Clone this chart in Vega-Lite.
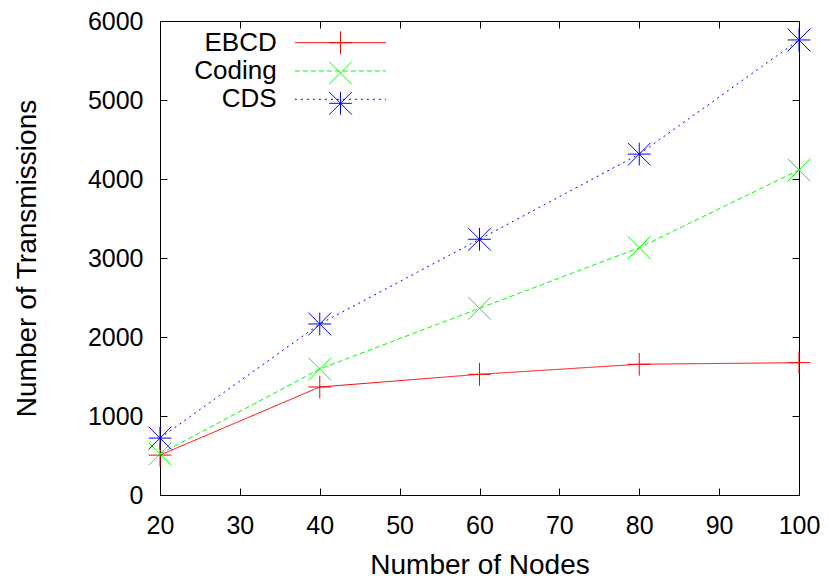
{
  "$schema": "https://vega.github.io/schema/vega-lite/v6.json",
  "width": 639,
  "height": 474,
  "autosize": "none",
  "padding": {"left": 160, "top": 21, "right": 29, "bottom": 84},
  "background": "white",
  "config": {
    "view": {"stroke": "black", "strokeWidth": 1},
    "font": "Liberation Sans",
    "axis": {
      "grid": false,
      "domain": false,
      "tickColor": "black",
      "tickWidth": 1,
      "labelColor": "black",
      "titleColor": "black",
      "titleFontWeight": "normal",
      "labelFont": "Liberation Sans",
      "titleFont": "Liberation Sans"
    },
    "legend": {
      "orient": "none",
      "legendX": 167.5,
      "legendY": 8.7,
      "title": null,
      "padding": 0,
      "rowPadding": 2.3,
      "labelFontSize": 26,
      "labelFont": "Liberation Sans",
      "labelColor": "black",
      "labelAlign": "right",
      "labelBaseline": "middle",
      "symbolSize": 520,
      "symbolStrokeWidth": 1,
      "symbolFillColor": "transparent",
      "symbolOpacity": 1
    }
  },
  "data": {
    "values": [
      {"series": "EBCD", "nodes": 20, "tx": 505},
      {"series": "EBCD", "nodes": 40, "tx": 1367},
      {"series": "EBCD", "nodes": 60, "tx": 1528},
      {"series": "EBCD", "nodes": 80, "tx": 1655},
      {"series": "EBCD", "nodes": 100, "tx": 1675},
      {"series": "Coding", "nodes": 20, "tx": 520},
      {"series": "Coding", "nodes": 40, "tx": 1595},
      {"series": "Coding", "nodes": 60, "tx": 2363},
      {"series": "Coding", "nodes": 80, "tx": 3130},
      {"series": "Coding", "nodes": 100, "tx": 4115},
      {"series": "CDS", "nodes": 20, "tx": 720},
      {"series": "CDS", "nodes": 40, "tx": 2165},
      {"series": "CDS", "nodes": 60, "tx": 3237},
      {"series": "CDS", "nodes": 80, "tx": 4315},
      {"series": "CDS", "nodes": 100, "tx": 5760}
    ]
  },
  "resolve": {"axis": {"x": "independent", "y": "independent"}},
  "layer": [
    {
      "mark": {"type": "line", "strokeWidth": 1},
      "encoding": {
        "x": {
          "field": "nodes", "type": "quantitative",
          "scale": {"domain": [20, 100], "nice": false, "zero": false},
          "axis": {
            "values": [20, 30, 40, 50, 60, 70, 80, 90, 100],
            "title": "Number of Nodes",
            "titleFontSize": 28,
            "labelFontSize": 25,
            "tickSize": -7,
            "labelPadding": 25,
            "labelFlush": false,
            "labelOverlap": false,
            "titleY": 78,
            "titleBaseline": "alphabetic"
          }
        },
        "y": {
          "field": "tx", "type": "quantitative",
          "scale": {"domain": [0, 6000], "nice": false},
          "axis": {
            "values": [0, 1000, 2000, 3000, 4000, 5000, 6000],
            "format": "d",
            "title": "Number of Transmissions",
            "titleFontSize": 28,
            "labelFontSize": 25,
            "tickSize": -7,
            "labelPadding": 24,
            "labelFlush": false,
            "labelOverlap": false,
            "titleX": -125,
            "titleBaseline": "alphabetic"
          }
        },
        "color": {
          "field": "series", "type": "nominal",
          "scale": {"domain": ["EBCD", "Coding", "CDS"], "range": ["#ff0000", "#00ff00", "#0000ff"]},
          "legend": {"labelOffset": -76.8, "symbolType": "M-4,0H4"}
        },
        "strokeDash": {
          "field": "series", "type": "nominal",
          "scale": {"domain": ["EBCD", "Coding", "CDS"], "range": [[1, 0], [5, 3], [2, 4]]},
          "legend": {"labelOffset": -76.8, "symbolType": "M-4,0H4"}
        }
      }
    },
    {
      "mark": {"type": "point", "filled": false, "strokeWidth": 1, "size": 520, "opacity": 1},
      "encoding": {
        "x": {"field": "nodes", "type": "quantitative", "axis": null},
        "y": {"field": "tx", "type": "quantitative", "axis": null},
        "stroke": {
          "field": "series", "type": "nominal",
          "sort": "descending",
          "scale": {"range": ["#ff0000", "#00ff00", "#0000ff"]},
          "legend": {"labelExpr": "''"}
        },
        "shape": {
          "field": "series", "type": "nominal",
          "sort": "descending",
          "scale": {"range": ["M-1,0H1M0,-1V1", "M-1,-1L1,1M-1,1L1,-1", "M-1,0H1M0,-1V1M-1,-1L1,1M-1,1L1,-1"]},
          "legend": {"labelExpr": "''"}
        }
      }
    },
    {
      "mark": {"type": "point", "opacity": 0},
      "encoding": {
        "x": {
          "field": "nodes", "type": "quantitative",
          "axis": {"orient": "top", "values": [20, 30, 40, 50, 60, 70, 80, 90, 100], "labels": false, "title": null, "tickSize": -7}
        },
        "y": {
          "field": "tx", "type": "quantitative",
          "axis": {"orient": "right", "values": [0, 1000, 2000, 3000, 4000, 5000, 6000], "labels": false, "title": null, "tickSize": -7}
        }
      }
    }
  ]
}
